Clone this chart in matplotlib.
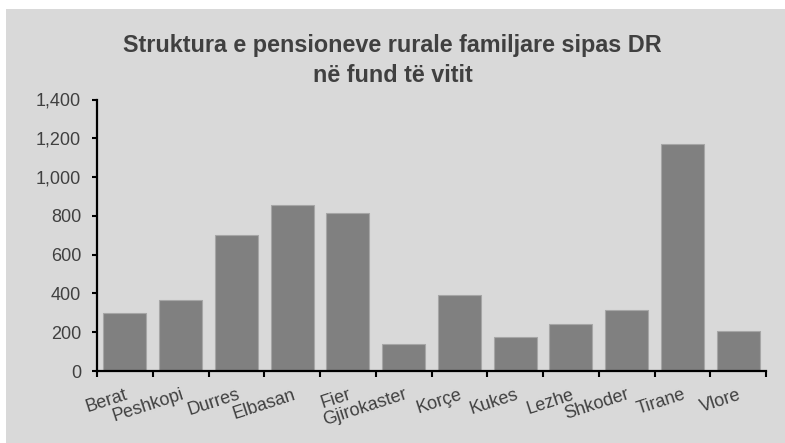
#!/usr/bin/env python3

import matplotlib
matplotlib.use('Agg')
import matplotlib.pyplot as plt # type: ignore
from matplotlib.patches import Rectangle
from matplotlib.ticker import FuncFormatter

districts = ['Berat', 'Peshkopi', 'Durres', 'Elbasan', 'Fier', 'Gjirokaster',
			 'Korçe', 'Kukes', 'Lezhe', 'Shkoder', 'Tirane', 'Vlore']
pensions = [298, 368, 703, 854, 815, 141, 391, 173, 240, 314, 1168, 207]
y_ticks = [0, 200, 400, 600, 800, 1000, 1200, 1400]
title_lines = ['Struktura e pensioneve rurale familjare sipas DR', 'në fund të vitit']

TEXT = '#404040'

def draw_chart() -> None:
	"""
	Bar chart of rural family pensions per district
	"""
	plt.rcParams['font.family'] = ['Liberation Sans', 'DejaVu Sans']
	fig = plt.figure(figsize=(7.85, 4.43), dpi=100)
	fig.patch.set_facecolor('white')
	# grey chart area, leaves a thin white margin top/left
	fig.patches.append(Rectangle((6 / 785, 0), 1, 1 - 9 / 443,
								 transform=fig.transFigure, facecolor='#d9d9d9',
								 edgecolor='none', zorder=-1))

	ax = fig.add_axes([97 / 785, 1 - 371 / 443, 669 / 785, 271.5 / 443])
	ax.set_facecolor('none')
	x = list(range(len(districts)))
	ax.bar(x, pensions, width=0.77, color='#808080', edgecolor='#a6a6a6',
		   linewidth=0.8, zorder=2)

	ax.set_xlim(-0.5, len(districts) - 0.5)
	ax.set_ylim(0, 1400)
	ax.set_yticks(y_ticks)
	ax.yaxis.set_major_formatter(FuncFormatter(lambda v, _: '{:,.0f}'.format(v)))

	# ticks sit on category boundaries, labels on category centres
	ax.set_xticks([i - 0.5 for i in range(len(districts) + 1)])
	ax.set_xticklabels([])
	ax.set_xticks(x, minor=True)
	ax.set_xticklabels(districts, minor=True, rotation=18, ha='right', va='top',
					   rotation_mode='anchor', fontsize=13, color=TEXT)
	ax.tick_params(axis='x', which='minor', length=0, pad=11)
	ax.tick_params(axis='x', which='major', length=4, width=1.5, direction='out')
	ax.tick_params(axis='y', length=3.5, width=1.5, direction='out', pad=8,
				   labelsize=13, labelcolor=TEXT)

	for side in ['top', 'right']:
		ax.spines[side].set_visible(False)
	for side in ['left', 'bottom']:
		ax.spines[side].set_linewidth(1.6)
		ax.spines[side].set_color('black')

	for line, base in zip(title_lines, [52, 82]):
		fig.text(0.5, 1 - base / 443, line, ha='center', va='baseline',
				 fontsize=16.8, fontweight='bold', color=TEXT)

	fig.savefig('out.png', dpi=100, facecolor=fig.get_facecolor())

if __name__ == '__main__':
	draw_chart()
